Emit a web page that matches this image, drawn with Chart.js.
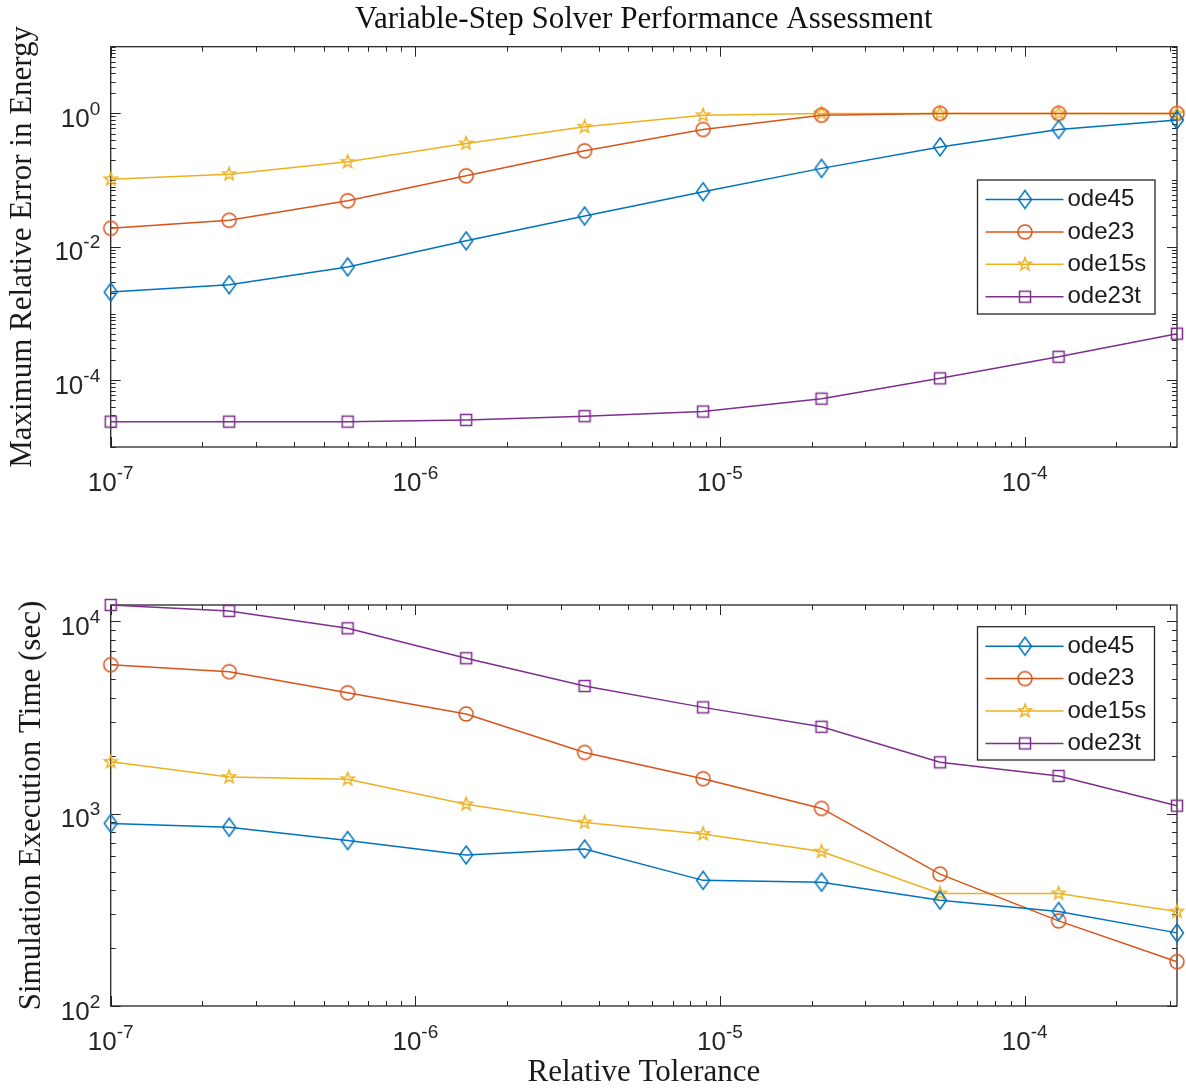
<!DOCTYPE html>
<html><head><meta charset="utf-8">
<script src="https://cdn.jsdelivr.net/npm/chart.js@4.4.1/dist/chart.umd.min.js"></script>
<style>
html,body{margin:0;padding:0;background:#fff;overflow:hidden;width:1186px;height:1088px}
#c1{position:absolute;left:0;top:0}
#c2{position:absolute;left:0;top:544px}
</style></head><body>
<canvas id="c1" width="1186" height="544"></canvas>
<canvas id="c2" width="1186" height="548"></canvas>
<script>
// ---------------- data ----------------
const tolerance = [1e-7, 2.448e-7, 5.995e-7, 1.468e-6, 3.594e-6, 8.799e-6, 2.154e-5, 5.275e-5, 1.292e-4, 3.162e-4];
const seriesNames = ['ode45', 'ode23', 'ode15s', 'ode23t'];

const errOde45  = [2.1e-3, 2.7e-3, 5.0e-3, 0.0123, 0.029, 0.067, 0.15, 0.315, 0.575, 0.80];
const errOde23  = [0.019, 0.025, 0.049, 0.116, 0.275, 0.575, 0.94, 1.0, 1.0, 1.0];
const errOde15s = [0.103, 0.123, 0.188, 0.355, 0.63, 0.94, 1.0, 1.0, 1.0, 1.0];
const errOde23t = [2.4e-5, 2.4e-5, 2.4e-5, 2.55e-5, 2.9e-5, 3.4e-5, 5.3e-5, 1.07e-4, 2.25e-4, 5.0e-4];

const timeOde45  = [890, 850, 725, 610, 655, 450, 440, 355, 310, 240];
const timeOde23  = [5950, 5470, 4250, 3300, 2080, 1520, 1065, 485, 277, 170];
const timeOde15s = [1860, 1550, 1510, 1120, 900, 785, 635, 385, 385, 310];
const timeOde23t = [12160, 11330, 9200, 6430, 4610, 3570, 2830, 1850, 1570, 1100];

const xTickExponents = ['-7', '-6', '-5', '-4'];
const errTickExponents = ['-4', '-2', '0'];
const timeTickExponents = ['2', '3', '4'];

const titleText = 'Variable-Step Solver Performance Assessment';
const errAxisLabel = 'Maximum Relative Error in Energy';
const timeAxisLabel = 'Simulation Execution Time (sec)';
const xAxisLabel = 'Relative Tolerance';

// ---------------- styles ----------------
const colors = ['#0072BD', '#D95319', '#EDB120', '#7E2F8E'];
const shapes = ['diamond', 'circle', 'star', 'square'];
const axisColor = '#262626';
const serif = "'Liberation Serif', 'Times New Roman', serif";
const sans = "'Liberation Sans', Arial, sans-serif";
const serifSize = 31;

function makeMarker(shape, color) {
  const c = document.createElement('canvas');
  c.width = 24; c.height = 24;
  const g = c.getContext('2d');
  g.strokeStyle = color; g.lineWidth = 1.5; g.lineJoin = 'miter';
  g.translate(12, 12);
  g.beginPath();
  if (shape === 'diamond') {
    g.moveTo(0, -9); g.lineTo(6.5, 0); g.lineTo(0, 9); g.lineTo(-6.5, 0); g.closePath();
  } else if (shape === 'circle') {
    g.arc(0, 0, 7, 0, Math.PI * 2);
  } else if (shape === 'square') {
    g.rect(-5.5, -5.5, 11, 11);
  } else if (shape === 'star') {
    for (let i = 0; i < 10; i++) {
      const r = i % 2 === 0 ? 6.8 : 2.8;
      const a = -Math.PI / 2 + i * Math.PI / 5;
      const px = r * Math.cos(a), py = r * Math.sin(a);
      if (i === 0) g.moveTo(px, py); else g.lineTo(px, py);
    }
    g.closePath();
  }
  g.stroke();
  return c;
}
const markers = shapes.map((s, i) => makeMarker(s, colors[i]));

function toPoints(ys) { return tolerance.map((x, i) => ({ x, y: ys[i] })); }
function makeDatasets(list) {
  return list.map((ys, i) => ({
    label: seriesNames[i],
    data: toPoints(ys),
    borderColor: colors[i],
    backgroundColor: 'transparent',
    borderWidth: 1.5,
    pointStyle: markers[i],
    pointRadius: 7,
    tension: 0,
    fill: false,
    clip: false
  }));
}

function logTickList(min, max) {
  const out = [];
  for (let d = Math.floor(Math.log10(min)); d <= Math.ceil(Math.log10(max)); d++) {
    for (let k = 1; k < 10; k++) {
      const v = k * Math.pow(10, d);
      if (v >= min * 0.9999 && v <= max * 1.0001) out.push({ v, k, d });
    }
  }
  return out;
}

function drawPowerLabel(ctx, exp, x, y, align) {
  ctx.font = '26px ' + sans;
  const wb = ctx.measureText('10').width;
  ctx.font = '19px ' + sans;
  const we = ctx.measureText(exp).width;
  const total = wb + we;
  let start = align === 'center' ? x - total / 2 : x - total;
  ctx.fillStyle = axisColor;
  ctx.textAlign = 'left';
  ctx.textBaseline = 'alphabetic';
  ctx.font = '26px ' + sans;
  ctx.fillText('10', start, y);
  ctx.font = '19px ' + sans;
  ctx.fillText(exp, start + wb, y - 12);
}

const decor = {
  id: 'decor',
  beforeDatasetsDraw(chart, args, o) {
    const { ctx, chartArea: a, scales } = chart;
    ctx.save();
    ctx.strokeStyle = axisColor;
    ctx.lineWidth = 1;
    const xs = scales.x, ys = scales.y;
    const xMajor = xTickExponents.map(Number);
    logTickList(xs.min, xs.max).forEach(t => {
      const px = Math.round(xs.getPixelForValue(t.v)) + 0.5;
      const len = (t.k === 1 && xMajor.includes(t.d)) ? 10 : 5;
      ctx.beginPath();
      ctx.moveTo(px, a.bottom); ctx.lineTo(px, a.bottom - len);
      ctx.moveTo(px, a.top); ctx.lineTo(px, a.top + len);
      ctx.stroke();
    });
    const yMajor = o.yExps.map(Number);
    logTickList(ys.min, ys.max).forEach(t => {
      const py = Math.round(ys.getPixelForValue(t.v)) + 0.5;
      const len = (t.k === 1 && yMajor.includes(t.d)) ? 10 : 5;
      ctx.beginPath();
      ctx.moveTo(a.left, py); ctx.lineTo(a.left + len, py);
      ctx.moveTo(a.right, py); ctx.lineTo(a.right - len, py);
      ctx.stroke();
    });
    ctx.lineWidth = 1.3;
    ctx.strokeRect(a.left, a.top, a.right - a.left, a.bottom - a.top);
    ctx.restore();
  },
  afterDatasetsDraw(chart, args, o) {
    const { ctx, chartArea: a, scales } = chart;
    ctx.save();
    xTickExponents.forEach(e => {
      const px = scales.x.getPixelForValue(Math.pow(10, Number(e)));
      drawPowerLabel(ctx, e, px, a.bottom + 44, 'center');
    });
    o.yExps.forEach(e => {
      const py = scales.y.getPixelForValue(Math.pow(10, Number(e)));
      drawPowerLabel(ctx, e, a.left - 10.5, py + 13.5, 'right');
    });
    // legend (MATLAB style)
    const L = o.legend;
    ctx.fillStyle = '#fff';
    ctx.fillRect(L.left, L.top, L.width, L.height);
    ctx.strokeStyle = axisColor;
    ctx.lineWidth = 1.3;
    ctx.strokeRect(L.left, L.top, L.width, L.height);
    chart.data.datasets.forEach((ds, i) => {
      const cy = L.top + 19.5 + i * 32.4;
      ctx.strokeStyle = ds.borderColor;
      ctx.lineWidth = 1.5;
      ctx.beginPath();
      ctx.moveTo(L.left + 8, cy); ctx.lineTo(L.left + 86, cy);
      ctx.stroke();
      const m = ds.pointStyle;
      ctx.drawImage(m, L.left + 47.5 - m.width / 2, cy - m.height / 2);
      ctx.fillStyle = '#1a1a1a';
      ctx.font = '24px ' + sans;
      ctx.textAlign = 'left';
      ctx.textBaseline = 'middle';
      ctx.fillText(ds.label, L.left + 90, cy);
    });
    ctx.restore();
  }
};

function baseOptions(cfg) {
  return {
    responsive: false,
    animation: false,
    events: [],
    layout: { padding: { left: 0, right: 9, top: cfg.padTop, bottom: 0 } },
    plugins: {
      legend: { display: false },
      tooltip: { enabled: false },
      title: cfg.title ? {
        display: true, text: cfg.title, color: '#111',
        fullSize: false,
        font: { family: serif, size: serifSize, weight: 'normal' },
        padding: { top: 1.5, bottom: 8 }
      } : { display: false },
      decor: { yExps: cfg.yExps, legend: cfg.legend }
    },
    scales: {
      x: {
        type: 'logarithmic',
        min: 1e-7, max: tolerance[tolerance.length - 1],
        grid: { display: false, drawTicks: false },
        border: { display: false },
        ticks: { display: false },
        title: cfg.xTitle ? {
          display: true, text: cfg.xTitle, color: '#1a1a1a',
          font: { family: serif, size: serifSize, weight: 'normal' },
          padding: { top: 0, bottom: 0.4 }
        } : { display: false },
        afterFit(s) { s.height = cfg.xHeight; }
      },
      y: {
        type: 'logarithmic',
        min: cfg.yMin, max: cfg.yMax,
        grid: { display: false, drawTicks: false },
        border: { display: false },
        ticks: { display: false },
        title: {
          display: true, text: cfg.yTitle, color: '#1a1a1a',
          font: { family: serif, size: serifSize, weight: 'normal' },
          padding: { top: cfg.yTitlePad, bottom: 0 }
        },
        afterFit(s) { s.width = 110.7; }
      }
    }
  };
}

new Chart(document.getElementById('c1'), {
  type: 'line',
  data: { datasets: makeDatasets([errOde45, errOde23, errOde15s, errOde23t]) },
  options: baseOptions({
    padTop: 0, title: titleText, xTitle: null, xHeight: 97,
    yMin: 1e-5, yMax: 10, yTitle: errAxisLabel, yTitlePad: 4.4,
    yExps: errTickExponents,
    legend: { left: 977.5, top: 180, width: 177.5, height: 134 }
  }),
  plugins: [decor]
});

new Chart(document.getElementById('c2'), {
  type: 'line',
  data: { datasets: makeDatasets([timeOde45, timeOde23, timeOde15s, timeOde23t]) },
  options: baseOptions({
    padTop: 61, title: null, xTitle: xAxisLabel, xHeight: 86,
    yMin: 100, yMax: Math.max(...timeOde23t), yTitle: timeAxisLabel, yTitlePad: 13.4,
    yExps: timeTickExponents,
    legend: { left: 977.5, top: 82.7, width: 177, height: 133.3 }
  }),
  plugins: [decor]
});
</script>
</body></html>
